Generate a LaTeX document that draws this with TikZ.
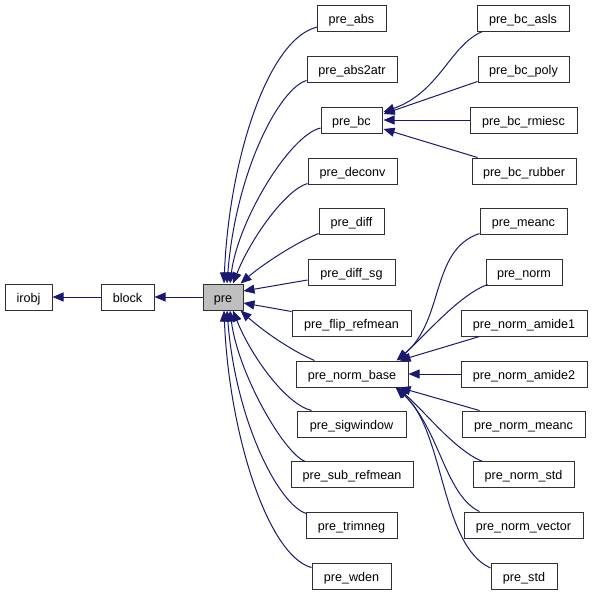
\documentclass[tikz,border=0pt]{standalone}
\usepackage{fontspec}
\setmainfont{Liberation Sans}
\usetikzlibrary{arrows.meta,calc}
\definecolor{edgeblue}{HTML}{191970}
\definecolor{prefill}{HTML}{BFBFBF}
\definecolor{boxline}{HTML}{303030}
\tikzset{
  cls/.style={draw=boxline, line width=1pt, fill=white, inner sep=0pt,
    minimum height=26pt, text height=11pt, text depth=0pt,
    font=\fontsize{12.6}{15}\selectfont, text=black},
  edge/.style={draw=edgeblue, line width=1pt,
    -{Triangle[length=11pt,width=9pt]}},
}
\begin{document}
\begin{tikzpicture}[x=1pt,y=-1pt]
\useasboundingbox (0,0) rectangle (592,595);
% nodes
\node[cls, minimum width=47pt] (irobj) at (28.5,297) {irobj};
\node[cls, minimum width=53pt] (block) at (127.5,297) {block};
\node[cls, minimum width=40pt, fill=prefill] (pre) at (223,297) {pre};
\node[cls, minimum width=69pt] (pre_abs) at (351.5,18) {pre\_abs};
\node[cls, minimum width=90pt] (pre_abs2atr) at (352,69) {pre\_abs2atr};
\node[cls, minimum width=61pt] (pre_bc) at (351.5,120) {pre\_bc};
\node[cls, minimum width=89pt] (pre_deconv) at (352.5,171) {pre\_deconv};
\node[cls, minimum width=65pt] (pre_diff) at (351.5,221) {pre\_diff};
\node[cls, minimum width=87pt] (pre_diff_sg) at (351.5,272) {pre\_diff\_sg};
\node[cls, minimum width=119pt] (pre_flip_refmean) at (351.5,323) {pre\_flip\_refmean};
\node[cls, minimum width=112pt] (pre_norm_base) at (352,374) {pre\_norm\_base};
\node[cls, minimum width=109pt] (pre_sigwindow) at (351.5,424) {pre\_sigwindow};
\node[cls, minimum width=122pt] (pre_sub_refmean) at (352,474) {pre\_sub\_refmean};
\node[cls, minimum width=91pt] (pre_trimneg) at (351.5,525) {pre\_trimneg};
\node[cls, minimum width=79pt] (pre_wden) at (351.5,576) {pre\_wden};
\node[cls, minimum width=92pt] (pre_bc_asls) at (523,18) {pre\_bc\_asls};
\node[cls, minimum width=91pt] (pre_bc_poly) at (523.5,69) {pre\_bc\_poly};
\node[cls, minimum width=107pt] (pre_bc_rmiesc) at (523.5,120) {pre\_bc\_rmiesc};
\node[cls, minimum width=104pt] (pre_bc_rubber) at (524,171) {pre\_bc\_rubber};
\node[cls, minimum width=87pt] (pre_meanc) at (523.5,221) {pre\_meanc};
\node[cls, minimum width=76pt] (pre_norm) at (524,272) {pre\_norm};
\node[cls, minimum width=126pt] (pre_norm_amide1) at (524,323) {pre\_norm\_amide1};
\node[cls, minimum width=126pt] (pre_norm_amide2) at (524,374) {pre\_norm\_amide2};
\node[cls, minimum width=123pt] (pre_norm_meanc) at (523.5,424) {pre\_norm\_meanc};
\node[cls, minimum width=101pt] (pre_norm_std) at (523.5,474) {pre\_norm\_std};
\node[cls, minimum width=119pt] (pre_norm_vector) at (523.5,525) {pre\_norm\_vector};
\node[cls, minimum width=66pt] (pre_std) at (524,576) {pre\_std};
% straight edges
\draw[edge] (block.west) -- (irobj.east);
\draw[edge] (pre.west) -- (block.east);
% children of pre, upper group
\draw[edge] ($(pre_abs.west)+(1,9)$) .. controls (268,38) and (229,160) .. ($(pre.north)+(1,0)$);
\draw[edge] ($(pre_abs2atr.south west)+(0,-2)$) .. controls (280,88) and (236,170) .. ($(pre.north)+(4,0)$);
\draw[edge] ($(pre_bc.west)+(0,8)$) .. controls (290,135) and (238,220) .. ($(pre.north)+(7,0)$);
\draw[edge] ($(pre_deconv.south west)+(0,-1)$) .. controls (285,190) and (250,240) .. ($(pre.north)+(10,0)$);
\draw[edge] ($(pre_diff.south west)+(0,-1)$) .. controls (295,243) and (262,265) .. ($(pre.north east)+(-3,0)$);
\draw[edge] ($(pre_diff_sg.west)+(0,8)$) -- ($(pre.east)+(0,-6)$);
% children of pre, lower group
\draw[edge] ($(pre_flip_refmean.north west)+(0,2)$) -- ($(pre.east)+(0,6)$);
\draw[edge] ($(pre_norm_base.north west)+(19,0)$) .. controls (290,350) and (262,330) .. ($(pre.south east)+(-3,0)$);
\draw[edge] ($(pre_sigwindow.north west)+(15,0)$) .. controls (285,404) and (250,354) .. ($(pre.south)+(10,0)$);
\draw[edge] ($(pre_sub_refmean.north west)+(15,1)$) .. controls (285,455) and (238,374) .. ($(pre.south)+(7,0)$);
\draw[edge] ($(pre_trimneg.north west)+(1,2)$) .. controls (280,506) and (236,424) .. ($(pre.south)+(4,0)$);
\draw[edge] ($(pre_wden.north west)+(0,5)$) .. controls (268,556) and (229,434) .. ($(pre.south)+(1,0)$);
% children of pre_bc
\draw[edge] ($(pre_bc_asls.south west)+(6,0)$) .. controls (450,45) and (440,92) .. ($(pre_bc.east)+(1,-8)$);
\draw[edge] ($(pre_bc_poly.south west)+(0,-1)$) -- ($(pre_bc.east)+(1,-6)$);
\draw[edge] (pre_bc_rmiesc.west) -- ($(pre_bc.east)+(1,0)$);
\draw[edge] ($(pre_bc_rubber.north west)+(6,0)$) -- ($(pre_bc.east)+(1,9)$);
% children of pre_norm_base
\draw[edge] ($(pre_meanc.south west)+(0,-1)$) .. controls (430,250) and (445,320) .. ($(pre_norm_base.north east)+(-12,0)$);
\draw[edge] ($(pre_norm.south west)+(2,-1)$) .. controls (460,295) and (430,330) .. ($(pre_norm_base.north east)+(-11,0)$);
\draw[edge] ($(pre_norm_amide1.south west)+(19,0)$) -- ($(pre_norm_base.north east)+(-9,0)$);
\draw[edge] (pre_norm_amide2.west) -- (pre_norm_base.east);
\draw[edge] ($(pre_norm_meanc.north west)+(18,0)$) -- ($(pre_norm_base.south east)+(-9,0)$);
\draw[edge] ($(pre_norm_std.north west)+(10,1)$) .. controls (455,450) and (428,415) .. ($(pre_norm_base.south east)+(-11,0)$);
\draw[edge] ($(pre_norm_vector.north west)+(16,0)$) .. controls (445,495) and (440,430) .. ($(pre_norm_base.south east)+(-12,0)$);
\draw[edge] ($(pre_std.west)+(0,-8)$) .. controls (440,545) and (445,430) .. ($(pre_norm_base.south east)+(-13,0)$);
\end{tikzpicture}
\end{document}
